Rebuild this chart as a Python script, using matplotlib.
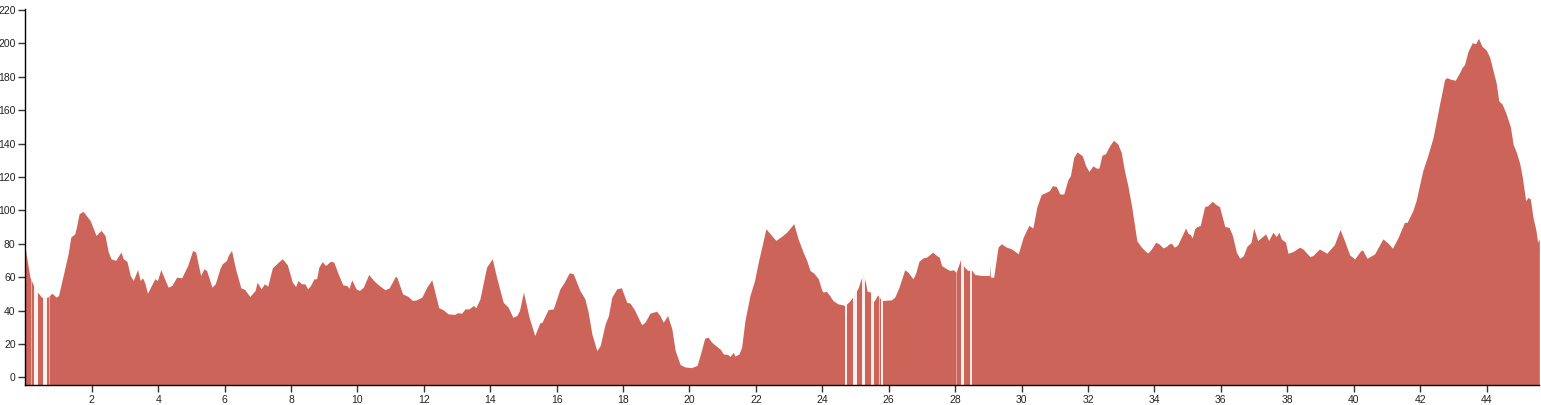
import matplotlib
matplotlib.use("Agg")
import matplotlib.pyplot as plt

# distance along the route (km) and elevation (m)
km = [0.00, 0.14, 0.29, 0.49, 0.68, 0.80, 0.93, 1.00, 1.14, 1.29, 1.37, 1.49, 1.54, 1.62, 1.74,
      1.95, 2.13, 2.28, 2.40, 2.50, 2.58, 2.72, 2.88, 2.95, 3.06, 3.16, 3.25, 3.38, 3.46, 3.53,
      3.59, 3.68, 3.90, 3.98, 4.08, 4.30, 4.41, 4.56, 4.71, 4.89, 5.04, 5.13, 5.28, 5.38, 5.46,
      5.62, 5.72, 5.86, 5.93, 6.06, 6.11, 6.21, 6.33, 6.49, 6.61, 6.76, 6.92, 6.98, 7.10, 7.20,
      7.30, 7.44, 7.62, 7.74, 7.89, 8.04, 8.14, 8.21, 8.32, 8.42, 8.50, 8.59, 8.69, 8.77, 8.84,
      8.94, 9.04, 9.19, 9.29, 9.42, 9.56, 9.68, 9.75, 9.83, 9.96, 10.06, 10.18, 10.34, 10.49, 10.62,
      10.83, 10.96, 11.13, 11.18, 11.36, 11.53, 11.66, 11.78, 11.94, 12.09, 12.24, 12.45, 12.58, 12.73, 12.93,
      13.03, 13.14, 13.24, 13.36, 13.49, 13.57, 13.69, 13.89, 14.06, 14.19, 14.39, 14.54, 14.68, 14.80, 14.88,
      15.00, 15.17, 15.34, 15.49, 15.56, 15.74, 15.90, 16.10, 16.23, 16.38, 16.50, 16.70, 16.85, 16.95, 17.06,
      17.21, 17.31, 17.46, 17.56, 17.66, 17.81, 17.95, 18.11, 18.21, 18.34, 18.56, 18.66, 18.81, 19.01, 19.11,
      19.21, 19.34, 19.47, 19.57, 19.72, 19.87, 20.06, 20.23, 20.33, 20.46, 20.56, 20.67, 20.82, 20.92, 21.02,
      21.15, 21.22, 21.32, 21.37, 21.49, 21.57, 21.67, 21.82, 21.96, 22.06, 22.20, 22.30, 22.45, 22.60, 22.78,
      22.93, 23.14, 23.27, 23.42, 23.53, 23.63, 23.75, 23.88, 23.98, 24.03, 24.12, 24.22, 24.32, 24.47, 24.58,
      24.68, 24.81, 24.93, 25.08, 25.15, 25.23, 25.31, 25.35, 25.45, 25.53, 25.60, 25.66, 25.73, 25.80, 26.08,
      26.18, 26.31, 26.48, 26.58, 26.73, 26.81, 26.91, 27.03, 27.14, 27.22, 27.32, 27.44, 27.52, 27.59, 27.74,
      27.84, 27.94, 28.03, 28.16, 28.28, 28.38, 28.49, 28.59, 28.79, 28.94, 29.03, 29.04, 29.06, 29.16, 29.29,
      29.39, 29.54, 29.69, 29.90, 30.05, 30.22, 30.34, 30.46, 30.59, 30.84, 30.93, 31.05, 31.15, 31.27, 31.40,
      31.47, 31.57, 31.67, 31.83, 31.93, 32.03, 32.15, 32.25, 32.33, 32.42, 32.53, 32.65, 32.77, 32.90, 33.00,
      33.10, 33.20, 33.31, 33.38, 33.47, 33.61, 33.74, 33.81, 33.91, 34.04, 34.14, 34.26, 34.35, 34.47, 34.53,
      34.60, 34.70, 34.81, 34.94, 35.01, 35.08, 35.14, 35.21, 35.28, 35.38, 35.51, 35.61, 35.74, 35.86, 35.96,
      36.12, 36.25, 36.35, 36.47, 36.57, 36.68, 36.78, 36.91, 36.99, 37.11, 37.35, 37.44, 37.57, 37.67, 37.75,
      37.82, 37.95, 38.02, 38.17, 38.37, 38.47, 38.68, 38.77, 38.97, 39.19, 39.42, 39.59, 39.73, 39.88, 40.03,
      40.23, 40.28, 40.40, 40.63, 40.88, 41.04, 41.17, 41.34, 41.53, 41.61, 41.78, 41.88, 42.08, 42.23, 42.39,
      42.47, 42.59, 42.74, 42.81, 42.92, 43.06, 43.19, 43.26, 43.34, 43.44, 43.57, 43.67, 43.76, 43.86, 44.00,
      44.10, 44.20, 44.29, 44.37, 44.47, 44.59, 44.72, 44.80, 44.90, 45.00, 45.08, 45.18, 45.25, 45.32, 45.40,
      45.49, 45.54, 45.59]

elev = [77, 60, 53, 48, 48, 50.4, 48, 49, 61, 74, 84, 86, 90, 98, 99.4,
        94, 85, 88, 85, 75, 71, 70, 75, 71, 69.5, 61, 58, 64.5, 58, 59.6,
        57, 50.4, 59, 58, 64.5, 54, 55, 60, 59.6, 67, 76, 75, 61, 65, 64,
        54, 56, 65, 68, 70, 73, 76, 65, 53.6, 52.6, 48.4, 52, 57, 53, 56,
        54.6, 65.6, 69, 71, 67.4, 57, 54.4, 58, 56, 56, 53, 55, 59, 59, 66,
        69.3, 67, 69.5, 69, 62, 55.4, 55, 53.4, 58.4, 53, 52, 54, 61.6, 58, 55.6,
        52.4, 53.6, 60, 60.4, 50, 48.4, 46, 46.4, 48, 54, 58.4, 41.7, 40.5, 38, 37.7,
        38.7, 38.4, 41, 41, 43, 41.7, 47, 66, 71, 60, 45, 42, 36, 37, 40,
        51, 36, 25, 32.5, 33, 40.5, 41, 53, 57, 62.6, 62, 52, 47, 39, 26,
        16, 19, 32, 37, 48, 53, 53.6, 45, 44.4, 40.5, 31.5, 33, 38.4, 39.6, 37,
        33, 37, 29, 16, 7.6, 6.2, 5.8, 7.2, 14, 23.5, 24, 21, 18.5, 17, 14,
        13.7, 12.5, 15, 12.7, 14, 18, 34, 49, 58, 68, 80, 89, 85.5, 82, 84.5,
        87, 92, 83, 75, 70, 64, 62.3, 59, 52.4, 51, 51.6, 49, 46, 44, 43.6,
        43, 45.4, 48.4, 53.6, 58, 62, 56, 51.6, 51, 45, 47, 49.4, 47.6, 46, 46.4,
        48, 54, 64.4, 63, 59, 62.3, 69.5, 71.5, 72, 73.3, 75, 73, 72, 67, 65,
        64, 64.4, 63, 70.4, 66, 64, 64.4, 61.6, 61, 61, 61, 67, 60, 60, 78,
        80, 78, 77, 74, 84, 91, 89.4, 102, 109.4, 111.8, 114.8, 114.2, 109.8, 109.8, 118.7,
        120.7, 131.7, 135, 132.7, 126.7, 123.3, 126.7, 125.3, 125.3, 133, 134, 138.7, 142, 139.7, 134.7,
        123.7, 114.8, 102.8, 93.8, 81.9, 77.9, 75.3, 74.5, 76.9, 80.9, 79.9, 77.5, 78.3, 80.3, 79.9,
        77.9, 79.3, 83.9, 89.4, 86.3, 85.5, 83.5, 88.9, 90.3, 90.9, 102.2, 102.8, 105.4, 103.4, 102.2,
        90.3, 89.8, 84.9, 74.9, 71.3, 72.9, 78.3, 80.9, 89.4, 81.9, 85.9, 81.9, 86.9, 84.3, 86.9,
        82.9, 80.9, 74.3, 75.3, 77.9, 76.9, 72.3, 72.9, 76.9, 74.3, 79.5, 88.5, 81.5, 73.3, 70.9,
        76.3, 75.9, 71.3, 73.9, 82.9, 80.3, 77.3, 83.9, 92.8, 92.8, 99.8, 105.8, 123.7, 132.7, 143.6,
        151.6, 164, 178.5, 179.5, 178.5, 177.9, 182.5, 185.4, 187.4, 195, 200.4, 199.8, 203, 198.4, 195.8,
        191.4, 183.5, 176.5, 165.6, 163.6, 158, 150, 139.7, 134.7, 128.1, 119.7, 105.8, 107.8, 106.8, 95.8,
        87.9, 80.9, 82.9]

# stretches with missing samples (km from, km to, strength)
gaps = [(0.18, 0.21, 0.45), (0.27, 0.37, 0.92), (0.54, 0.64, 0.92), (0.70, 0.73, 0.45),
        (24.67, 24.75, 0.9), (24.93, 25.03, 0.9), (25.20, 25.29, 0.9), (25.47, 25.55, 0.9),
        (25.71, 25.73, 0.6), (25.76, 25.83, 0.9),
        (28.04, 28.07, 0.4), (28.17, 28.27, 0.9), (28.44, 28.50, 0.85)]

x_ticks = list(range(2, 46, 2))
y_ticks = list(range(0, 221, 20))

fig = plt.figure(figsize=(15.41, 4.05), dpi=100)
ax = fig.add_axes([0.01642, 0.04938, 0.98248, 0.92766])

ax.fill_between(km, -10, elev, color="#cd645a", lw=0, zorder=1)
for a, b, s in gaps:
    ax.axvspan(a, b, color="white", alpha=s, lw=0, zorder=1.5)

ax.set_xlim(0, km[-1])
ax.set_ylim(-4.6, 220.4)
ax.set_xticks(x_ticks)
ax.set_yticks(y_ticks)

for side in ("top", "right"):
    ax.spines[side].set_visible(False)
for side in ("left", "bottom"):
    ax.spines[side].set_color("black")
    ax.spines[side].set_linewidth(1)

ax.tick_params(direction="out", length=5, width=1, color="#333333",
               labelsize=7.5, labelcolor="#222222", pad=2)
for lab in ax.get_xticklabels() + ax.get_yticklabels():
    lab.set_fontfamily("Liberation Sans")

fig.savefig("out.png", dpi=100)
